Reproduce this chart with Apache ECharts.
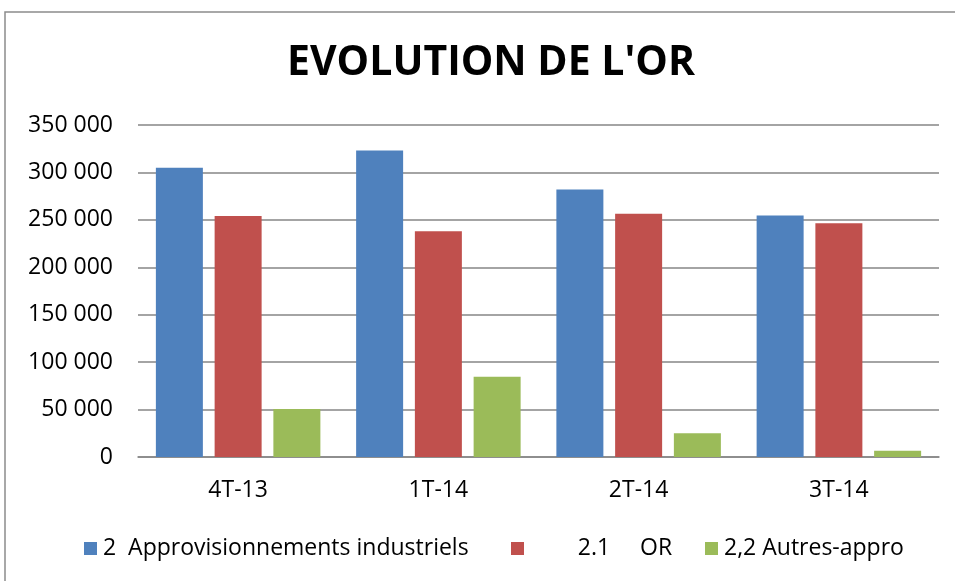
<!DOCTYPE html>
<html>
<head>
<meta charset="utf-8">
<script src="https://cdn.jsdelivr.net/npm/echarts@6/dist/echarts.min.js"></script>
<style>
  html, body { margin: 0; padding: 0; background: #fff; }
  #main { width: 955px; height: 581px; }
</style>
</head>
<body>
<div id="main"></div>
<script>
// données
var trimestres = ['4T-13', '1T-14', '2T-14', '3T-14'];
var approIndus = [305000, 323000, 282000, 254500];
var orValues = [254000, 238000, 256500, 246500];
var autresAppro = [50500, 84500, 25000, 6700];
var noms = ['2  Approvisionnements industriels', '        2.1     OR', '2,2 Autres-appro'];
var couleurs = ['#4F81BD', '#C0504D', '#9BBB59'];

var police = '"Open Sans", "Noto Sans", sans-serif';

var myChart = echarts.init(document.getElementById('main'));

function legende(nom, x) {
    return {
        data: [nom],
        left: x,
        top: 537,
        padding: 0,
        icon: 'rect',
        itemWidth: 13,
        itemHeight: 13,
        itemGap: 6,
        textStyle: { fontFamily: police, fontSize: 23, color: '#000', padding: [0, 0, 0, 1] }
    };
}

option = {
    animation: false,
    color: couleurs,
    title: {
        text: "EVOLUTION DE L'OR",
        left: 287,
        top: 43,
        padding: 0,
        textStyle: {
            fontFamily: '"Open Sans", sans-serif',
            fontWeight: 'bold',
            fontSize: 41,
            color: '#000'
        }
    },
    graphic: [{
        type: 'rect',
        shape: { x: 5, y: 12, width: 1000, height: 1000 },
        style: { fill: 'none', stroke: '#8c8c8c', lineWidth: 1.5 }
    }],
    legend: [
        legende(noms[0], 84),
        legende(noms[1], 511),
        legende(noms[2], 705)
    ],
    grid: { left: 138, right: 16, top: 125, bottom: 124 },
    xAxis: {
        type: 'category',
        data: trimestres,
        axisTick: { show: false },
        axisLine: { lineStyle: { color: '#868686', width: 1.5 } },
        axisLabel: { margin: 22, fontFamily: police, fontSize: 23, color: '#000' }
    },
    yAxis: {
        type: 'value',
        min: 0,
        max: 350000,
        interval: 50000,
        axisLine: { show: false },
        axisTick: { show: false },
        splitLine: { lineStyle: { color: '#868686', width: 1.5 } },
        axisLabel: {
            margin: 25,
            fontFamily: police,
            fontSize: 23,
            color: '#000',
            formatter: function (v) {
                return String(v).replace(/\B(?=(\d{3})+(?!\d))/g, ' ');
            }
        }
    },
    series: [{
        name: noms[0],
        type: 'bar',
        barWidth: 47,
        barGap: '25%',
        data: approIndus
    }, {
        name: noms[1],
        type: 'bar',
        barWidth: 47,
        barGap: '25%',
        data: orValues
    }, {
        name: noms[2],
        type: 'bar',
        barWidth: 47,
        barGap: '25%',
        data: autresAppro
    }]
};
myChart.setOption(option);
</script>
</body>
</html>
